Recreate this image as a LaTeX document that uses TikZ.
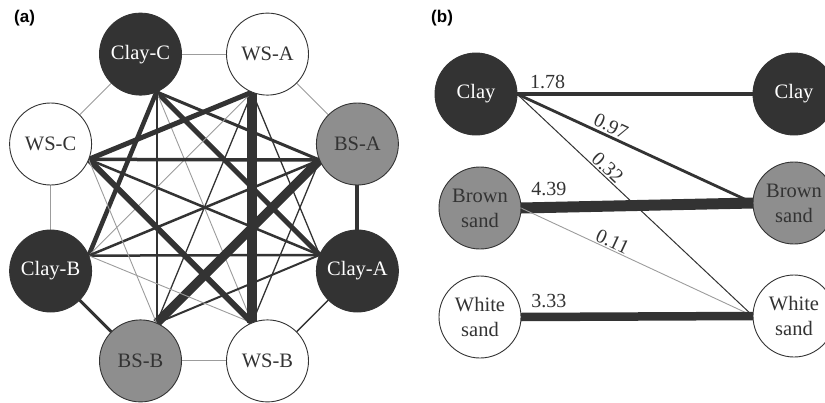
\documentclass[tikz,border=0pt]{standalone}
\usepackage{fontspec}
\setmainfont{Liberation Serif}
\newfontfamily\panelfont{Liberation Sans}
\usetikzlibrary{backgrounds}
\definecolor{darkfill}{HTML}{333333}
\definecolor{sandfill}{HTML}{8E8E8E}
\definecolor{edgedark}{HTML}{333333}
\definecolor{edgegray}{HTML}{9C9C9C}

\begin{document}
\begin{tikzpicture}[x=1pt,y=-1pt,
  site/.style={circle, minimum size=82pt, inner sep=0pt, outer sep=0pt,
    draw=edgedark, line width=0.9pt, align=center,
    font=\rmfamily\fontsize{20.5}{25}\selectfont},
  claynode/.style={site, fill=darkfill, text=white},
  brownnode/.style={site, fill=sandfill, text=edgedark},
  whitenode/.style={site, fill=white, text=edgedark},
  link/.style={draw=edgedark, line width=#1},
  faint/.style={draw=edgegray, line width=0.9pt},
  panellabel/.style={font=\panelfont\bfseries\fontsize{17}{17}\selectfont,
    anchor=west, inner sep=0pt},
  weight/.style={font=\rmfamily\fontsize{20}{20}\selectfont, text=edgedark, inner sep=1pt}
]
\useasboundingbox (0,0) rectangle (825,402);

% ---------- panel (a): eight sites on an octagon ----------
\node[panellabel] (pa) at (14,18) {(a)};

\node[claynode]  (CC) at (140.5,54.1) {Clay-C};
\node[whitenode] (WA) at (267.5,54.1) {WS-A};
\node[brownnode] (BA) at (357.4,144)  {BS-A};
\node[claynode]  (CA) at (357.4,271)  {Clay-A};
\node[whitenode] (WB) at (267.5,360.9) {WS-B};
\node[brownnode] (BB) at (140.5,360.9) {BS-B};
\node[claynode]  (CB) at (50.6,271)   {Clay-B};
\node[whitenode] (WC) at (50.6,144)   {WS-C};

\begin{scope}[on background layer]
  % links between neighbouring sites
  \draw[faint]     (CC) -- (WA);
  \draw[faint]     (WA) -- (BA);
  \draw[link=4pt]  (BA) -- (CA);
  \draw[link=1.3pt](CA) -- (WB);
  \draw[faint]     (WB) -- (BB);
  \draw[link=3pt]  (BB) -- (CB);
  \draw[faint]     (CB) -- (WC);
  \draw[faint]     (WC) -- (CC);

  % links across the octagon, from the inner side of each site
  \draw[link=3pt]   (CC.-67.5) -- (BA.-157.5);
  \draw[link=5pt]   (CC.-67.5) -- (CA.157.5);
  \draw[faint]      (CC.-67.5) -- (WB.112.5);
  \draw[link=2pt]   (CC.-67.5) -- (BB.67.5);
  \draw[link=4.5pt] (CC.-67.5) -- (CB.22.5);

  \draw[link=1.3pt] (WA.-112.5) -- (CA.157.5);
  \draw[link=10pt]  (WA.-112.5) -- (WB.112.5);
  \draw[link=1.3pt] (WA.-112.5) -- (BB.67.5);
  \draw[faint]      (WA.-112.5) -- (CB.22.5);
  \draw[link=5pt]   (WA.-112.5) -- (WC.-22.5);

  \draw[link=1.3pt] (BA.-157.5) -- (WB.112.5);
  \draw[link=9pt]   (BA.-157.5) -- (BB.67.5);
  \draw[link=2.5pt] (BA.-157.5) -- (CB.22.5);
  \draw[link=3.5pt] (BA.-157.5) -- (WC.-22.5);

  \draw[link=2pt]   (CA.157.5) -- (BB.67.5);
  \draw[link=2.5pt] (CA.157.5) -- (CB.22.5);
  \draw[link=2.5pt] (CA.157.5) -- (WC.-22.5);

  \draw[faint]      (WB.112.5) -- (CB.22.5);
  \draw[link=6pt]   (WB.112.5) -- (WC.-22.5);

  \draw[faint]      (BB.67.5) -- (WC.-22.5);
\end{scope}

% ---------- panel (b): soil types, left to right ----------
\node[panellabel] (pb) at (431,18) {(b)};

\node[claynode]  (CL) at (476,94)  {Clay};
\node[brownnode] (BL) at (480,208) {Brown\\sand};
\node[whitenode] (WL) at (480,317) {White\\sand};
\node[claynode]  (CR) at (794,94)  {Clay};
\node[brownnode] (BR) at (794,203) {Brown\\sand};
\node[whitenode] (WR) at (794,316) {White\\sand};

\begin{scope}[on background layer]
  \draw[link=4.5pt] (CL.east) -- node[weight, above=2pt, pos=0.13] {1.78} (CR.west);
  \draw[link=2.8pt] (CL.east) -- node[weight, sloped, above=1pt, pos=0.38] {0.97} (BR.west);
  \draw[link=1pt]   (CL.east) -- node[weight, sloped, above=0pt, pos=0.36] {0.32} (WR.west);
  \draw[link=11pt]  (BL.east) -- node[weight, above=5pt, pos=0.12] {4.39} (BR.west);
  \draw[faint]      (BL.east) -- node[weight, sloped, above=0pt, pos=0.38] {0.11} (WR.west);
  \draw[link=8.5pt] (WL.east) -- node[weight, above=4pt, pos=0.12] {3.33} (WR.west);
\end{scope}
\end{tikzpicture}
\end{document}
